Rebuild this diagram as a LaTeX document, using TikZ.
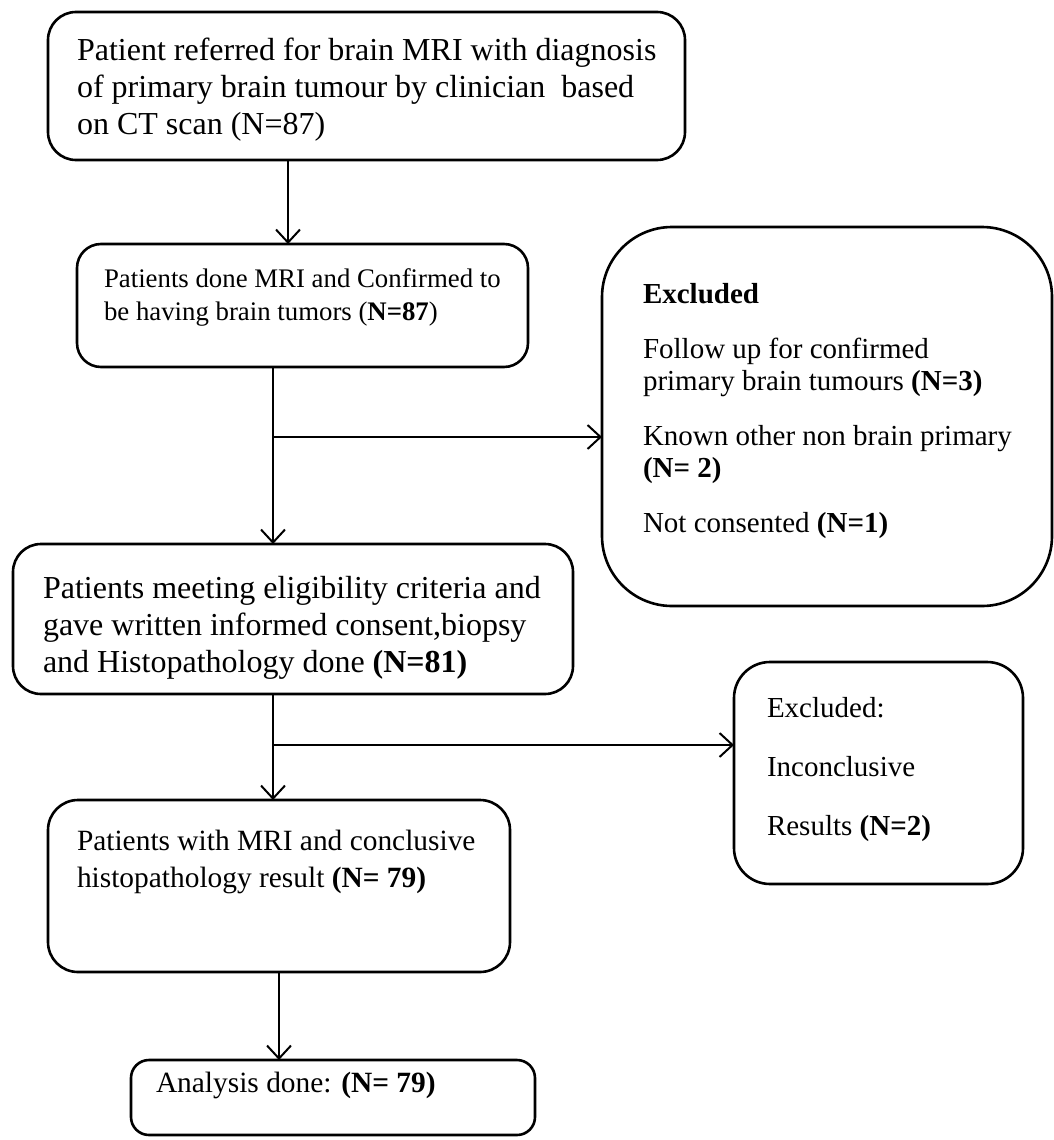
\documentclass[tikz,border=0pt]{standalone}
\usepackage{fontspec}
\setmainfont{Liberation Serif}
\usetikzlibrary{arrows.meta}
\newcommand\fszA{\fontsize{32}{37}\selectfont}
\newcommand\fszB{\fontsize{26.8}{33}\selectfont}
\newcommand\fszC{\fontsize{29}{32}\selectfont}
\newcommand\fszD{\fontsize{29}{59}\selectfont}
\newcommand\fszE{\fontsize{29.4}{37}\selectfont}
\begin{document}
\begin{tikzpicture}[x=1pt,y=-1pt,
  box/.style={draw, line width=2.6pt, rounded corners=#1, inner sep=0pt, outer sep=0pt, anchor=north west},
  box/.default=28pt,
  txt/.style={inner sep=0pt, outer sep=0pt, anchor=north west, align=left},
  arr/.style={line width=2pt, -{Straight Barb[length=13pt,width=24pt,line width=2pt]}}]
\useasboundingbox (0,0) rectangle (1054,1140);
% boxes
\node[box, minimum width=637pt, minimum height=148pt] (b1) at (48,12) {};
\node[box=24pt, minimum width=451pt, minimum height=123pt] (b2) at (77,244) {};
\node[box=70pt, minimum width=450pt, minimum height=379pt] (ex1) at (602,227) {};
\node[box, minimum width=560pt, minimum height=150pt] (b3) at (13,544) {};
\node[box=36pt, minimum width=289pt, minimum height=222pt] (ex2) at (734,662) {};
\node[box=30pt, minimum width=462pt, minimum height=172pt] (b4) at (48,800) {};
\node[box=18pt, minimum width=404pt, minimum height=75pt] (b5) at (131,1060) {};
% texts
\node[txt, font=\fszA] (t1) at (77,34.1) {\strut Patient referred for brain MRI with diagnosis\\of primary brain tumour by clinician\ \ based\\on CT scan (N=87)};
\node[txt, font=\fszB] (t2) at (104,263.9) {\strut Patients done MRI and Confirmed to\\be having brain tumors (\textbf{N=87})};
\node[txt, font=\fszC] (t3) at (643,280.6) {\strut\textbf{Excluded}\\[23pt]Follow up for confirmed\\primary brain tumours \textbf{(N=3)}\\[23pt]Known other non brain primary\\\textbf{(N= 2)}\\[23pt]Not consented \textbf{(N=1)}};
\node[txt, font=\fszA] (t4) at (43,572.1) {\strut Patients meeting eligibility criteria and\\gave written informed consent,biopsy\\and Histopathology done \textbf{(N=81)}};
\node[txt, font=\fszD] (t5) at (767,675.7) {\strut Excluded:\\Inconclusive\\Results \textbf{(N=2)}};
\node[txt, font=\fszE] (t6) at (77,824.1) {\strut Patients with MRI and conclusive\\histopathology result \textbf{(N= 79)}};
\node[txt, font=\fszE] (t7) at (156,1066.1) {\strut Analysis done: \textbf{(N= 79)}};
% junctions
\coordinate (j0) at (288,200);
\coordinate (j1) at (273,437);
\coordinate (j2) at (273,745);
% connectors
\draw[arr] (b1.south -| j0) -- (b2.north -| j0);
\draw[arr] (b2.south -| j1) -- (b3.north -| j1);
\draw[arr] (j1) -- (j1 -| ex1.west);
\draw[arr] (b3.south -| j2) -- (b4.north -| j2);
\draw[arr] (j2) -- (j2 -| ex2.west);
\draw[arr] (b4.south) -- (b5.north -| b4.south);
\end{tikzpicture}
\end{document}
